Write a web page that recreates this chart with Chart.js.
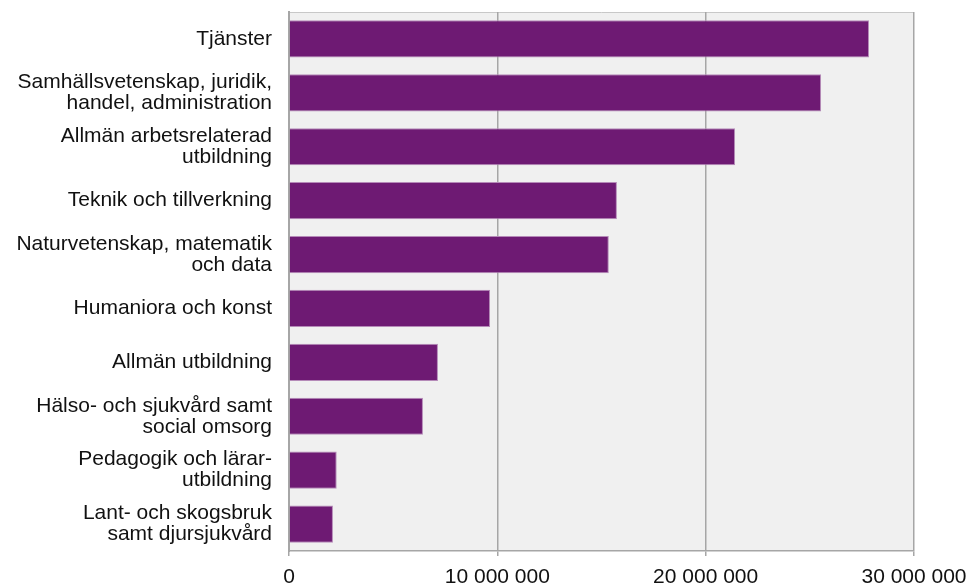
<!DOCTYPE html>
<html>
<head>
<meta charset="utf-8">
<script src="https://cdn.jsdelivr.net/npm/chart.js@4"></script>
<style>
	html, body { margin: 0; padding: 0; background: #fff; }
	#wrap { width: 970px; height: 585px; }
</style>
</head>
<body>
<div id="wrap"><canvas id="chart" width="970" height="585"></canvas></div>
<script>
const categories = [
	["Tjänster"],
	["Samhällsvetenskap, juridik,", "handel, administration"],
	["Allmän arbetsrelaterad", "utbildning"],
	["Teknik och tillverkning"],
	["Naturvetenskap, matematik", "och data"],
	["Humaniora och konst"],
	["Allmän utbildning"],
	["Hälso- och sjukvård samt", "social omsorg"],
	["Pedagogik och lärar-", "utbildning"],
	["Lant- och skogsbruk", "samt djursjukvård"]
];
const values = [27840000, 25540000, 21410000, 15740000, 15350000, 9650000, 7150000, 6430000, 2290000, 2110000];
const xTicks = [0, 10000000, 20000000, 30000000];

const plotBackground = {
	id: "plotBackground",
	beforeDraw: function (chart) {
		const a = chart.chartArea;
		const ctx = chart.ctx;
		ctx.save();
		ctx.fillStyle = "#f0f0f0";
		ctx.fillRect(a.left, a.top, a.right - a.left, a.bottom - a.top);
		ctx.strokeStyle = "#c8c8c8";
		ctx.lineWidth = 1;
		ctx.beginPath();
		ctx.moveTo(a.left, a.top + 0.5);
		ctx.lineTo(a.right, a.top + 0.5);
		ctx.stroke();
		ctx.restore();
	}
};

function fmt(v) {
	return String(v).replace(/\B(?=(\d{3})+(?!\d))/g, " ");
}

const labelFont = { family: "Liberation Sans, Arial, sans-serif", size: 21, lineHeight: 1.0 };

const ctx = document.getElementById("chart").getContext("2d");
new Chart(ctx, {
	type: "bar",
	data: {
		labels: categories,
		datasets: [
			{
				data: values,
				backgroundColor: "#6e1a73",
				borderColor: "#b58ab8",
				borderWidth: 1,
				barPercentage: 0.69,
				categoryPercentage: 1
			}
		]
	},
	plugins: [plotBackground],
	options: {
		indexAxis: "y",
		responsive: false,
		animation: false,
		layout: {
			padding: { left: 0, right: 56, top: 12, bottom: 0 }
		},
		scales: {
			x: {
				min: 0,
				max: 30000000,
				afterBuildTicks: function (axis) {
					axis.ticks = xTicks.map(function (v) { return { value: v }; });
				},
				afterFit: function (axis) {
					axis.height = 34;
					axis.paddingLeft = 0;
					axis.paddingRight = 0;
				},
				grid: {
					color: "#a6a6a6",
					lineWidth: 1.5,
					tickLength: 5,
					drawOnChartArea: true
				},
				border: { color: "#a6a6a6", width: 1.5 },
				ticks: {
					color: "#111",
					font: labelFont,
					padding: 11,
					maxRotation: 0,
					callback: function (v) { return fmt(v); }
				}
			},
			y: {
				afterFit: function (axis) {
					axis.width = 289;
					axis.paddingTop = 0;
					axis.paddingBottom = 0;
				},
				grid: { display: false, drawTicks: false },
				border: { color: "#a6a6a6", width: 2 },
				ticks: {
					color: "#111",
					font: labelFont,
					padding: 17,
					autoSkip: false
				}
			}
		},
		plugins: {
			legend: { display: false },
			tooltip: { enabled: false }
		}
	}
});
</script>
</body>
</html>
